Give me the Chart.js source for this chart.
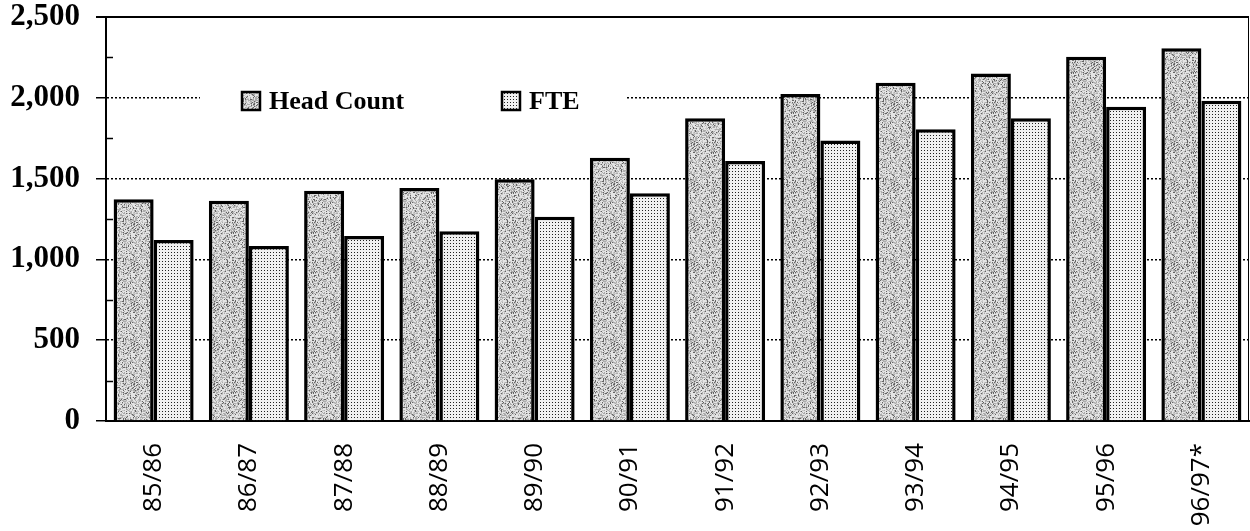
<!DOCTYPE html>
<html>
<head>
<meta charset="utf-8">
<script src="https://cdn.jsdelivr.net/npm/chart.js@4/dist/chart.umd.min.js"></script>
<style>
  body { margin: 0; background: #fff; }
  #wrap { width: 1250px; height: 531px; }
</style>
</head>
<body>
<div id="wrap"><canvas id="chart"></canvas></div>
<script>
const years = ['85/86', '86/87', '87/88', '88/89', '89/90', '90/91',
               '91/92', '92/93', '93/94', '94/95', '95/96', '96/97*'];
const headCount = [1372, 1363, 1425, 1442, 1496, 1629, 1873, 2023, 2093, 2151, 2254, 2306];
const fte = [1120, 1083, 1145, 1174, 1264, 1409, 1609, 1735, 1805, 1873, 1945, 1982];
const yTicks = [0, 500, 1000, 1500, 2000, 2500];

// fine dot screen for FTE
function dotPattern() {
  const c = document.createElement('canvas');
  c.width = 3; c.height = 3;
  const g = c.getContext('2d');
  g.fillStyle = '#f0f0f0';
  g.fillRect(0, 0, 3, 3);
  g.fillStyle = '#202020';
  g.fillRect(0, 0, 1, 1);
  return g.createPattern(c, 'repeat');
}

// mottled grey for head count (fixed hash, not random)
function mottlePattern() {
  const n = 40;
  const c = document.createElement('canvas');
  c.width = n; c.height = n;
  const g = c.getContext('2d');
  const img = g.createImageData(n, n);
  for (let y = 0; y < n; y++) {
    for (let x = 0; x < n; x++) {
      let h = (x * 374761393 + y * 668265263) | 0;
      h = (h ^ (h >>> 13)) * 1274126177;
      h = (h ^ (h >>> 16)) >>> 0;
      const r = h % 100;
      let v = 228;
      if (r < 12) v = 100;
      else if (r < 38) v = 172;
      else if (r < 55) v = 200;
      const i = (y * n + x) * 4;
      img.data[i] = img.data[i + 1] = img.data[i + 2] = v;
      img.data[i + 3] = 255;
    }
  }
  g.putImageData(img, 0, 0);
  return g.createPattern(c, 'repeat');
}

const hcFill = mottlePattern();
const fteFill = dotPattern();

const frame = {
  id: 'frame',
  beforeDatasetsDraw(chart) {
    const { ctx, chartArea: a, scales: { y } } = chart;
    ctx.save();
    ctx.strokeStyle = '#000';
    ctx.lineWidth = 1.5;
    // minor ticks inside the y axis
    for (let v = 250; v < 2500; v += 500) {
      const py = Math.round(y.getPixelForValue(v)) + 0.5;
      ctx.beginPath();
      ctx.moveTo(a.left, py);
      ctx.lineTo(a.left + 7, py);
      ctx.stroke();
    }
    ctx.restore();
  },
  afterDraw(chart) {
    const { ctx, chartArea: a } = chart;
    ctx.save();
    ctx.strokeStyle = '#000';
    ctx.lineWidth = 2;
    ctx.beginPath();
    ctx.moveTo(a.left - 10, a.top);
    ctx.lineTo(a.right, a.top);
    ctx.stroke();
    ctx.lineWidth = 1;
    ctx.beginPath();
    ctx.moveTo(a.right - 0.5, a.top);
    ctx.lineTo(a.right - 0.5, a.bottom);
    ctx.stroke();

    // legend inside the plot
    ctx.fillStyle = '#fff';
    ctx.fillRect(200, 82, 427, 34);
    const items = [
      { fill: hcFill, text: 'Head Count', x: 242 },
      { fill: fteFill, text: 'FTE', x: 502 }
    ];
    ctx.font = 'bold 26px "Liberation Serif"';
    ctx.textBaseline = 'middle';
    items.forEach(it => {
      ctx.fillStyle = it.fill;
      ctx.fillRect(it.x, 92, 18, 18);
      ctx.lineWidth = 2.5;
      ctx.strokeStyle = '#000';
      ctx.strokeRect(it.x, 92, 18, 18);
      ctx.fillStyle = '#000';
      ctx.fillText(it.text, it.x + 27, 102);
    });
    ctx.restore();
  }
};

new Chart(document.getElementById('chart'), {
  type: 'bar',
  data: {
    labels: years,
    datasets: [
      {
        label: 'Head Count',
        data: headCount,
        backgroundColor: hcFill,
        borderColor: '#000',
        borderWidth: 3.5,
        borderSkipped: 'bottom'
      },
      {
        label: 'FTE',
        data: fte,
        backgroundColor: fteFill,
        borderColor: '#000',
        borderWidth: 3.5,
        borderSkipped: 'bottom'
      }
    ]
  },
  options: {
    responsive: true,
    maintainAspectRatio: false,
    animation: false,
    layout: { padding: { top: 17, right: 1, left: 0, bottom: 0 } },
    plugins: {
      legend: { display: false },
      tooltip: { enabled: false }
    },
    datasets: {
      bar: { categoryPercentage: 0.84, barPercentage: 1 }
    },
    scales: {
      x: {
        grid: { display: false },
        border: { display: true, color: '#000', width: 2 },
        ticks: {
          minRotation: 90,
          maxRotation: 90,
          padding: 14,
          color: '#000',
          font: { family: '"Open Sans"', size: 26, weight: '500' }
        },
        afterFit(s) {
          s.height = 110;
          s.paddingLeft = 0;
          s.paddingRight = 0;
        }
      },
      y: {
        min: 0,
        max: 2500,
        afterBuildTicks(s) { s.ticks = yTicks.map(v => ({ value: v })); },
        grid: {
          color: '#000',
          lineWidth: 1.5,
          tickLength: 10,
          tickColor: '#000',
          tickWidth: 1.5
        },
        border: { display: true, color: '#000', width: 2, dash: [2, 2] },
        ticks: {
          padding: 16,
          color: '#000',
          font: { family: '"Liberation Serif"', size: 31, weight: 'bold', lineHeight: 1 },
          callback: v => v.toLocaleString('en-US')
        },
        afterFit(s) {
          s.width = 106;
          s.paddingTop = 0;
          s.paddingBottom = 0;
        }
      }
    }
  },
  plugins: [frame]
});
</script>
</body>
</html>
